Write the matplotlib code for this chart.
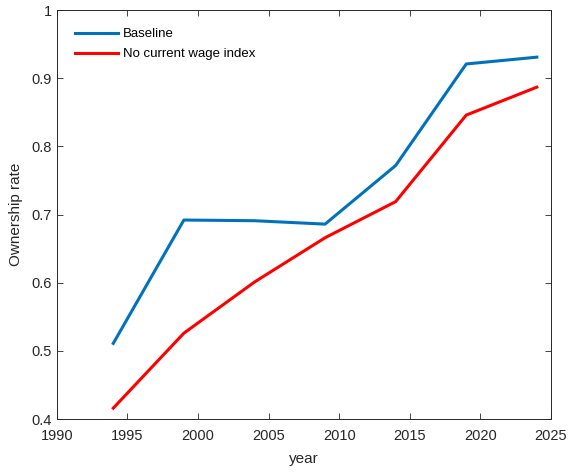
import matplotlib
matplotlib.use("Agg")
import matplotlib.pyplot as plt

plt.rcParams['font.family'] = ['Liberation Sans', 'DejaVu Sans']

years = [1994, 1999, 2004, 2009, 2014, 2019, 2024]
baseline = [0.511, 0.692, 0.691, 0.686, 0.772, 0.921, 0.931]
no_wage_index = [0.416, 0.526, 0.601, 0.666, 0.719, 0.846, 0.887]
xticks = [1990, 1995, 2000, 2005, 2010, 2015, 2020, 2025]
yticks = [0.4, 0.5, 0.6, 0.7, 0.8, 0.9, 1.0]
ytick_labels = ['0.4', '0.5', '0.6', '0.7', '0.8', '0.9', '1']

fig = plt.figure(figsize=(5.68, 4.76), dpi=100)
ax = fig.add_axes([0.100, 0.1197, 0.870, 0.859])
ax.plot(years, baseline, color='#0072BD', lw=2.2, label='Baseline')
ax.plot(years, no_wage_index, color='#FF0000', lw=2.2, label='No current wage index')
ax.set_xlim(1990, 2025)
ax.set_ylim(0.4, 1.0)
ax.set_xticks(xticks)
ax.set_yticks(yticks)
ax.set_yticklabels(ytick_labels)
ax.tick_params(direction='in', top=True, right=True, labelsize=10.5, colors='#262626', length=4, width=0.6)
ax.tick_params(axis='x', pad=7.5)
ax.tick_params(axis='y', pad=3.5)
for s in ax.spines.values():
    s.set_linewidth(0.7)
    s.set_color('#262626')
ax.set_xlabel('year', fontsize=11, color='#262626', labelpad=6)
ax.set_ylabel('Ownership rate', fontsize=11, color='#262626', labelpad=6)
leg = ax.legend(loc='upper left', frameon=False, fontsize=9.5, handlelength=3.3,
                handletextpad=0.35, borderaxespad=0.95, labelspacing=0.6)
fig.savefig('out.png', dpi=100)
